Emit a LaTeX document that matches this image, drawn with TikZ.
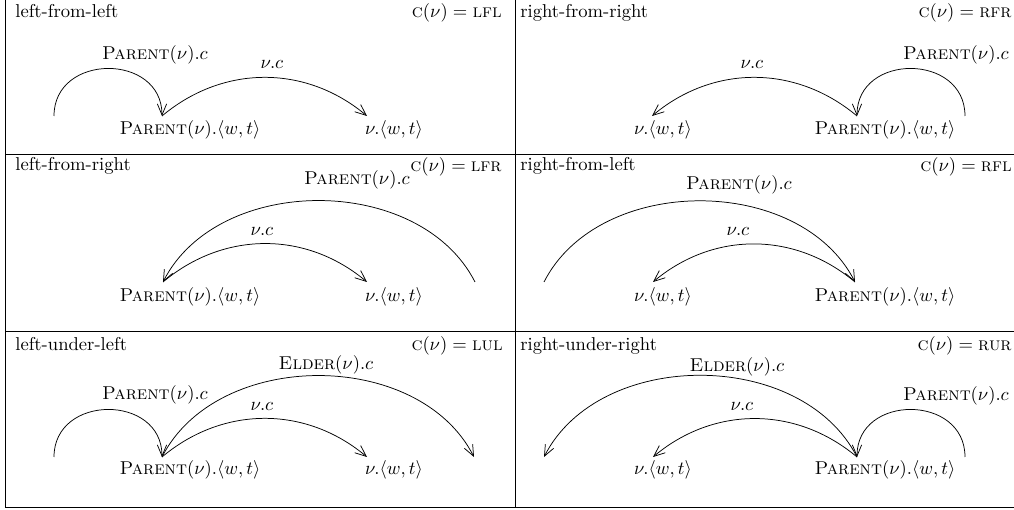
\documentclass[tikz,border=0pt]{standalone}
\usepackage{amsmath}
\usepackage{tikz}
\usetikzlibrary{
    arrows.meta
}
\definecolor{ink}{RGB}{0,0,0}
\newcommand{\pnu}{\textsc{Parent}(\nu)}
\newcommand{\enu}{\textsc{Elder}(\nu)}
\newcommand{\wtpair}{\langle w,t\rangle}
\tikzset{
    line cap=round,
    line join=round,
    paneltitle/.style={
        anchor=base west,
        inner sep=0pt,
        text=ink
    },
    casetag/.style={
        anchor=base east,
        inner sep=0pt,
        text=ink
    },
    slot/.style={
        inner sep=0pt,
        text=ink
    },
    arclabel/.style={
        inner sep=0pt,
        text=ink
    },
    link/.style={
        -{Straight Barb[length=6pt, width=5pt]},
        draw=ink,
        line width=0.4pt
    },
    gridline/.style={
        draw=ink,
        line width=0.5pt
    }
}

\begin{document}
\begin{tikzpicture}[x=0.5376pt, y=0.5376pt]
\useasboundingbox (0,0) rectangle (1014,510);

% Table rules
\draw[gridline] (5,510) -- (5,3) -- (1014,3);
\draw[gridline] (515,510) -- (515,3);
\draw[gridline] (5,356) -- (1014,356);
\draw[gridline] (5,179) -- (1014,179);

% left-from-left
\begin{scope}
    \node[paneltitle] (t1) at (15,492) {left-from-left};
    \node[casetag] (c1) at (502,492) {$\textsc{c}(\nu) = \textsc{lfl}$};
    \coordinate (l1) at (54,394);
    \coordinate (p1) at (162,394);
    \coordinate (v1) at (367,394);
    \node[slot] (pw1) at (190,380) {$\pnu.\wtpair$};
    \node[slot] (vw1) at (394,380) {$\nu.\wtpair$};
    \node[arclabel] (pc1) at (155,455) {$\pnu.c$};
    \node[arclabel] (vc1) at (272,445) {$\nu.c$};
    \draw[link] (l1) to[out=90, in=90, looseness=1.5] (p1);
    \draw[link] (p1) to[bend left=40] (v1);
\end{scope}

% right-from-right
\begin{scope}
    \node[paneltitle] (t2) at (520,492) {right-from-right};
    \node[casetag] (c2) at (1012,492) {$\textsc{c}(\nu) = \textsc{rfr}$};
    \coordinate (r2) at (965,394);
    \coordinate (p2) at (857,394);
    \coordinate (v2) at (652,394);
    \node[slot] (vw2) at (663,380) {$\nu.\wtpair$};
    \node[slot] (pw2) at (885,380) {$\pnu.\wtpair$};
    \node[arclabel] (pc2) at (956,455) {$\pnu.c$};
    \node[arclabel] (vc2) at (752,445) {$\nu.c$};
    \draw[link] (r2) to[out=90, in=90, looseness=1.5] (p2);
    \draw[link] (p2) to[bend right=40] (v2);
\end{scope}

% left-from-right
\begin{scope}
    \node[paneltitle] (t3) at (15,339) {left-from-right};
    \node[casetag] (c3) at (502,338) {$\textsc{c}(\nu) = \textsc{lfr}$};
    \coordinate (r3) at (475,228);
    \coordinate (p3) at (163,228);
    \coordinate (v3) at (367,228);
    \node[slot] (pw3) at (190,213) {$\pnu.\wtpair$};
    \node[slot] (vw3) at (394,213) {$\nu.\wtpair$};
    \node[arclabel] (pc3) at (357,330) {$\pnu.c$};
    \node[arclabel] (vc3) at (262,278) {$\nu.c$};
    \draw[link] (r3) to[bend right=63] (p3);
    \draw[link] (p3) to[bend left=40] (v3);
\end{scope}

% right-from-left
\begin{scope}
    \node[paneltitle] (t4) at (520,339) {right-from-left};
    \node[casetag] (c4) at (1012,338) {$\textsc{c}(\nu) = \textsc{rfl}$};
    \coordinate (l4) at (544,228);
    \coordinate (p4) at (855,228);
    \coordinate (v4) at (653,228);
    \node[slot] (vw4) at (663,213) {$\nu.\wtpair$};
    \node[slot] (pw4) at (885,213) {$\pnu.\wtpair$};
    \node[arclabel] (pc4) at (739,325) {$\pnu.c$};
    \node[arclabel] (vc4) at (738,278) {$\nu.c$};
    \draw[link] (l4) to[bend left=63] (p4);
    \draw[link] (p4) to[bend right=40] (v4);
\end{scope}

% left-under-left
\begin{scope}
    \node[paneltitle] (t5) at (15,159) {left-under-left};
    \node[casetag] (c5) at (503,159) {$\textsc{c}(\nu) = \textsc{lul}$};
    \coordinate (l5) at (54,53);
    \coordinate (p5) at (162,53);
    \coordinate (v5) at (367,53);
    \coordinate (e5) at (474,53);
    \node[slot] (pw5) at (190,40) {$\pnu.\wtpair$};
    \node[slot] (vw5) at (394,40) {$\nu.\wtpair$};
    \node[arclabel] (ec5) at (326,145) {$\enu.c$};
    \node[arclabel] (pc5) at (155,115) {$\pnu.c$};
    \node[arclabel] (vc5) at (262,103) {$\nu.c$};
    \draw[link] (l5) to[out=90, in=90, looseness=1.5] (p5);
    \draw[link] (p5) to[bend left=40] (v5);
    \draw[link] (p5) to[bend left=63] (e5);
\end{scope}

% right-under-right
\begin{scope}
    \node[paneltitle] (t6) at (520,159) {right-under-right};
    \node[casetag] (c6) at (1012,159) {$\textsc{c}(\nu) = \textsc{rur}$};
    \coordinate (r6) at (965,53);
    \coordinate (p6) at (857,53);
    \coordinate (v6) at (653,53);
    \coordinate (e6) at (544,53);
    \node[slot] (vw6) at (663,40) {$\nu.\wtpair$};
    \node[slot] (pw6) at (885,40) {$\pnu.\wtpair$};
    \node[arclabel] (ec6) at (737,143) {$\enu.c$};
    \node[arclabel] (vc6) at (742,103) {$\nu.c$};
    \node[arclabel] (pc6) at (956,114) {$\pnu.c$};
    \draw[link] (r6) to[out=90, in=90, looseness=1.5] (p6);
    \draw[link] (p6) to[bend right=40] (v6);
    \draw[link] (p6) to[bend right=63] (e6);
\end{scope}
\end{tikzpicture}
\end{document}
